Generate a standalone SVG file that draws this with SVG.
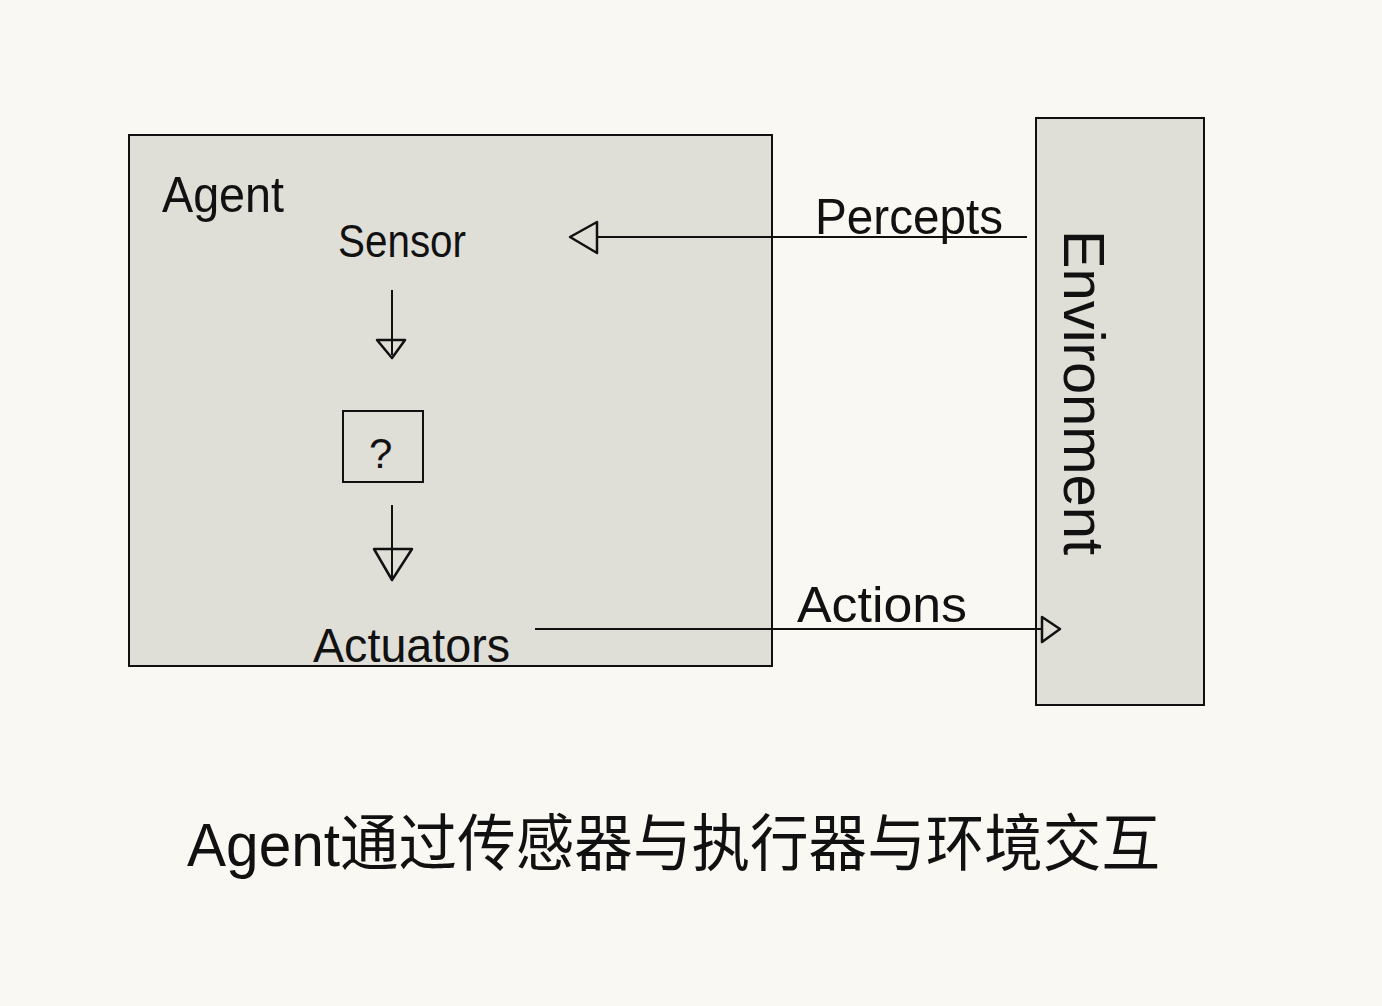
<svg xmlns="http://www.w3.org/2000/svg" width="1382" height="1006" viewBox="0 0 1382 1006">
<style>
.box{fill:#dfdfd8;stroke:#111;stroke-width:2}
.ln{stroke:#111;stroke-width:2;fill:none}
.head{fill:none;stroke:#111;stroke-width:2.5;stroke-linejoin:round}
.t{font-family:"Liberation Sans","Noto Sans CJK SC",sans-serif;fill:#111;font-weight:normal}
</style>
<rect width="1382" height="1006" fill="#faf8f2"/>
<g id="agent">
<rect class="box" x="129" y="135" width="643" height="531"/>
<text class="t" x="162" y="212" font-size="50" textLength="122" lengthAdjust="spacingAndGlyphs">Agent</text>
</g>
<g id="sensor"><text class="t" x="338" y="257" font-size="46" textLength="128" lengthAdjust="spacingAndGlyphs">Sensor</text></g>
<g id="decision">
<rect class="box" x="343" y="411" width="80" height="71" style="fill:none"/>
<text class="t" x="369" y="468" font-size="42">?</text>
</g>
<g id="actuators"><text class="t" x="313" y="662" font-size="48" textLength="197" lengthAdjust="spacingAndGlyphs">Actuators</text></g>
<g id="environment">
<rect class="box" x="1036" y="118" width="168" height="587"/>
<text class="t" transform="translate(1064,230) rotate(90)" x="0" y="0" font-size="58" textLength="325" lengthAdjust="spacingAndGlyphs">Environment</text>
</g>
<g id="connectors">
<line class="ln" x1="1027" y1="237" x2="597" y2="237"/>
<path class="head" d="M597,222 L570,237 L597,253 Z"/>
<text class="t" x="815" y="234" font-size="50" textLength="188" lengthAdjust="spacingAndGlyphs">Percepts</text>
<line class="ln" x1="535" y1="629" x2="1042" y2="629"/>
<path class="head" d="M1042,617 L1060,629 L1042,642 Z"/>
<text class="t" x="797" y="622" font-size="50" textLength="170" lengthAdjust="spacingAndGlyphs">Actions</text>
<line class="ln" x1="392" y1="290" x2="392" y2="355"/>
<path class="head" d="M377,340 L405,340 L392,358 Z"/>
<line class="ln" x1="392" y1="505" x2="392" y2="578"/>
<path class="head" d="M374,549 L412,549 L392,580 Z"/>
</g>
<text class="t" x="187" y="866" font-size="62" textLength="973" lengthAdjust="spacingAndGlyphs">Agent通过传感器与执行器与环境交互</text>
</svg>
